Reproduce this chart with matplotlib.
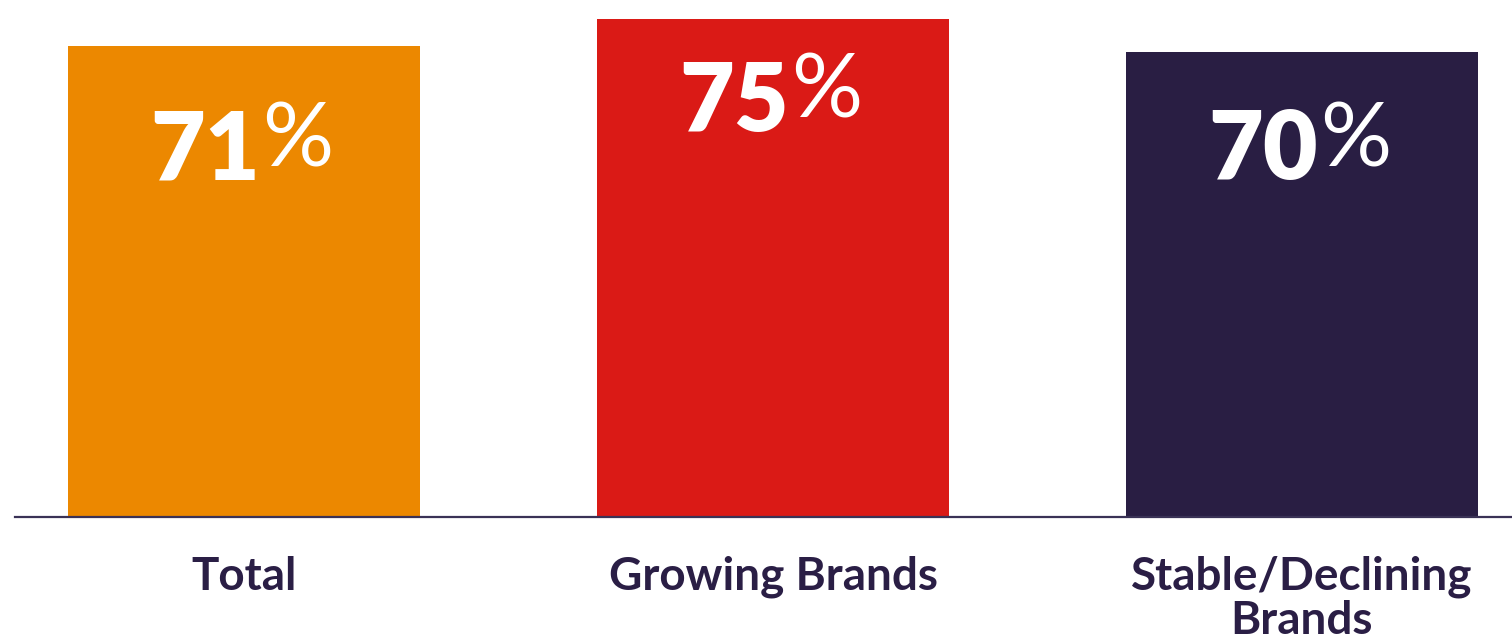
import matplotlib
matplotlib.use("Agg")
import matplotlib.pyplot as plt

categories = ["Total", "Growing Brands", "Stable/Declining\nBrands"]
values = [71, 75, 70]
colors = ["#EC8800", "#DA1A16", "#291E43"]

# how far below each bar top the value label sits (in % units)
label_drop = [16, 12.7, 15]

text_color = "#2A1E45"
plt.rcParams["font.family"] = ["Lato", "DejaVu Sans"]

fig = plt.figure(figsize=(15.12, 6.34), dpi=100)
ax = fig.add_axes([15 / 1512, 117 / 634, 1 - 15 / 1512, 517 / 634])

x = list(range(len(categories)))
ax.bar(x, values, width=0.665, color=colors, zorder=2)

ax.set_xlim(-0.433, 2.397)
ax.set_ylim(0, 77.86)

for xi, v, d in zip(x, values, label_drop):
    num = ax.annotate(str(v), xy=(xi, v - d), xytext=(16, 0), textcoords="offset pixels",
                      ha="right", va="center", fontsize=68, fontweight="heavy", color="white")
    ax.annotate("%", xy=(1, 0.62), xycoords=num, xytext=(2, 0), textcoords="offset pixels",
                ha="left", va="center", fontsize=64, fontweight="normal", color="white")

ax.set_xticks(x)
ax.set_xticklabels(categories, fontsize=33, fontweight="bold", color=text_color, linespacing=1.05)
ax.tick_params(axis="x", length=0, pad=28)
ax.set_yticks([])

for side in ["top", "right", "left"]:
    ax.spines[side].set_visible(False)
ax.spines["bottom"].set_color("#3A3256")
ax.spines["bottom"].set_linewidth(1.6)

fig.savefig("out.png", dpi=100)
